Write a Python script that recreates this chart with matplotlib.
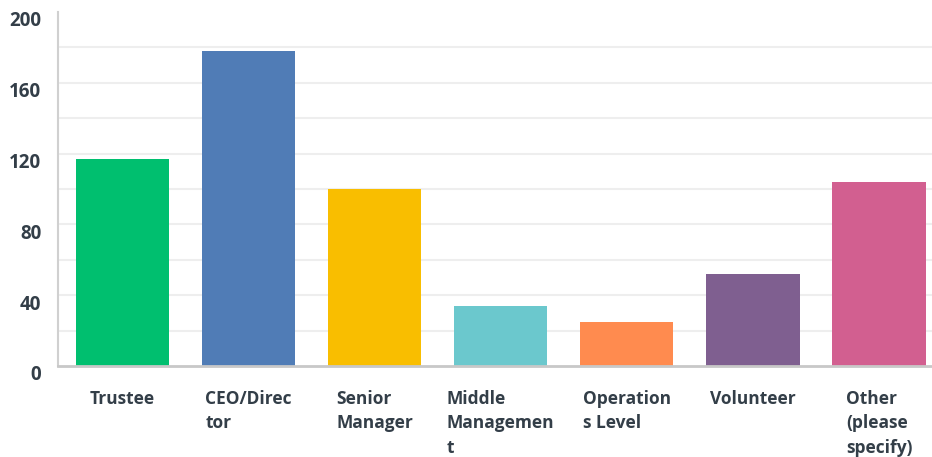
import matplotlib
matplotlib.use("Agg")
import matplotlib.pyplot as plt
from matplotlib.transforms import ScaledTranslation

plt.rcParams['font.family'] = ['Open Sans', 'DejaVu Sans']

categories = ['Trustee', 'CEO/Direc\ntor', 'Senior\nManager', 'Middle\nManagemen\nt',
              'Operation\ns Level', 'Volunteer', 'Other\n(please\nspecify)']
values = [117, 178, 100, 34, 25, 52, 104]
colors = ['#00BF6F', '#507CB6', '#F9BE00', '#6BC8CD', '#FF8B4F', '#7F5F90', '#D25F90']
yticks = [0, 40, 80, 120, 160, 200]
grid_levels = [20, 40, 60, 80, 100, 120, 140, 160, 180]

text_color = '#333E48'

fig = plt.figure(figsize=(9.32, 4.57), dpi=100)
ax = fig.add_axes([58/932, 91/457, 874/932, 354/457])

for g in grid_levels:
    ax.axhline(g, color='#EEEEEE', linewidth=1.5, zorder=0)

x = range(len(categories))
ax.bar(x, values, width=0.74, color=colors, zorder=2)

ax.set_xlim(-0.51, 6.42)
ax.set_ylim(0, 200)

for s in ['top', 'right']:
    ax.spines[s].set_visible(False)
ax.spines['left'].set_color('#D0D0D0')
ax.spines['left'].set_linewidth(1.5)
ax.spines['bottom'].set_color('#C8C8C8')
ax.spines['bottom'].set_linewidth(2)

ax.set_yticks(yticks)
ax.set_yticklabels([str(v) for v in yticks], fontsize=13.5, fontweight='bold', color=text_color)
ax.tick_params(axis='y', length=0, pad=12)
off = ScaledTranslation(0, -7/100, fig.dpi_scale_trans)
for lab in ax.get_yticklabels():
    lab.set_transform(lab.get_transform() + off)

ax.set_xticks(list(x))
ax.set_xticklabels(categories, fontsize=12.5, fontweight='bold', color=text_color,
                   multialignment='left', linespacing=1.49, va='top')
ax.tick_params(axis='x', length=0, pad=17)

fig.savefig('out.png', dpi=100)
